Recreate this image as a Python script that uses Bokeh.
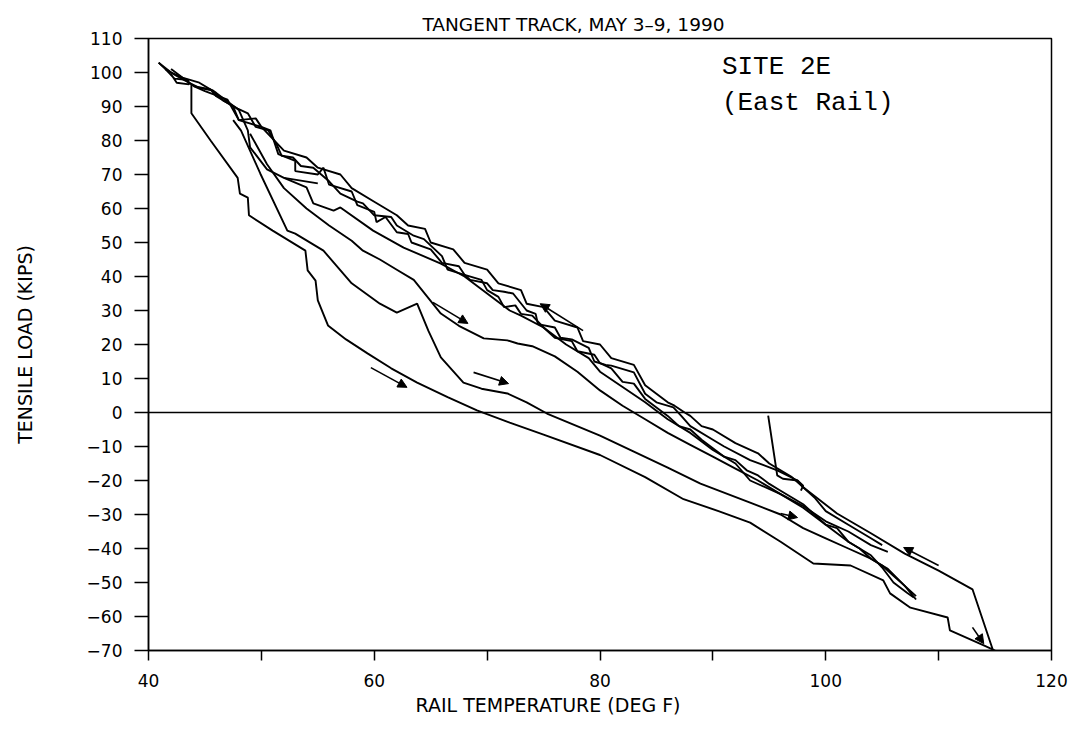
from bokeh.plotting import figure
from bokeh.models import Range1d, FixedTicker, Span, Label, Arrow, NormalHead, ColumnDataSource, Title
from bokeh.embed import file_html
from bokeh.resources import INLINE

# ---------------- data ----------------
title_text = "TANGENT TRACK, MAY 3\u20139, 1990"
x_title = "RAIL TEMPERATURE (DEG F)"
y_title = "TENSILE LOAD (KIPS)"
x_ticks = [40, 50, 60, 70, 80, 90, 100, 110, 120]
x_tick_labels = ["40", "", "60", "", "80", "", "100", "", "120"]
y_ticks = [-70, -60, -50, -40, -30, -20, -10, 0, 10, 20, 30, 40, 50, 60, 70, 80, 90, 100, 110]
y_tick_labels = ["\u221270", "\u221260", "\u221250", "\u221240", "\u221230", "\u221220", "\u221210",
                 "0", "10", "20", "30", "40", "50", "60", "70", "80", "90", "100", "110"]

# cooling run along the upper edge of the band (temperature F, load kips)
cool_upper = [(114.8, -69.8), (113.0, -52.0), (110.0, -46.5), (107.0, -41.5), (104.0, -35.5),
              (101.0, -29.7), (98.0, -22.0), (97.5, -20.0), (95.7, -17.0), (93.3, -14.0),
              (91.0, -10.0), (90.0, -8.0), (88.0, -4.0), (87.2, -1.0), (86.5, 1.5), (85.0, 3.0),
              (84.0, 5.5), (83.0, 11.8), (81.0, 13.8), (80.5, 14.0), (79.5, 15.0), (79.0, 19.0),
              (77.5, 21.5), (76.5, 22.0), (76.0, 25.0), (74.5, 26.0), (74.3, 29.0), (73.5, 30.0),
              (72.3, 35.0), (71.5, 35.5), (70.5, 36.0), (70.0, 38.0), (68.5, 39.0), (68.0, 40.5),
              (66.5, 42.0), (66.0, 46.0), (64.4, 51.0), (63.5, 52.0), (62.0, 55.0), (61.5, 57.5),
              (60.0, 58.0), (59.0, 61.5), (58.5, 62.0), (57.0, 64.4), (56.0, 68.0), (54.6, 72.0),
              (53.5, 72.5), (52.8, 75.0), (51.8, 75.5), (51.4, 78.5), (50.6, 83.0), (49.5, 84.0),
              (48.8, 88.0), (47.9, 89.4), (46.6, 91.8), (45.7, 94.7), (44.5, 95.5), (43.7, 96.8),
              (42.5, 99.0), (41.5, 101.0), (40.9, 102.9)]

band_lower = [(40.9, 102.9), (42.0, 100.0), (43.0, 98.5), (44.5, 97.0), (46.0, 94.0), (48.0, 89.0),
              (48.8, 83.0), (49.0, 78.0), (50.5, 71.5), (52.0, 69.0), (54.0, 66.2), (54.6, 61.5),
              (56.4, 59.4), (57.0, 60.3), (59.9, 53.5), (62.6, 48.5), (65.9, 43.8), (68.0, 40.0),
              (70.0, 35.0), (72.0, 30.0), (73.0, 28.5), (75.0, 25.0), (77.0, 20.0), (79.0, 16.0),
              (80.0, 12.0), (82.0, 7.5), (84.0, 3.0), (86.0, -2.0), (88.0, -6.0), (90.0, -11.0),
              (92.0, -15.0), (93.3, -20.0), (96.0, -24.0), (98.0, -28.0), (100.0, -33.0),
              (102.0, -38.0), (104.0, -42.0), (105.0, -45.6), (106.0, -50.0), (107.2, -53.0),
              (107.8, -54.4)]

band_mid = [(42.0, 101.0), (44.0, 96.0), (45.5, 95.0), (46.0, 93.0), (47.5, 90.0), (48.0, 86.0),
            (49.5, 86.5), (50.0, 84.0), (50.8, 83.0), (51.5, 76.0), (53.0, 74.0), (53.0, 71.0),
            (55.0, 70.0), (55.5, 72.0), (56.0, 67.0), (58.0, 65.0), (58.5, 61.0), (60.0, 59.0),
            (60.2, 56.0), (61.0, 57.5), (62.0, 53.0), (63.0, 52.5), (63.3, 50.0), (65.0, 48.0),
            (66.0, 44.0), (67.5, 43.0), (68.0, 40.5), (69.5, 39.0), (70.0, 36.0), (71.0, 34.0),
            (71.5, 31.0), (72.5, 31.5), (73.0, 29.0), (74.0, 28.5), (75.0, 25.0), (76.0, 22.0),
            (77.5, 21.0), (78.0, 18.0), (79.5, 17.0), (80.0, 14.5), (81.0, 13.0), (82.0, 9.0),
            (83.0, 8.5), (84.0, 4.0), (85.0, 1.5), (86.0, -1.0), (87.0, -4.0), (88.0, -5.0),
            (89.0, -8.0), (90.0, -10.5), (91.0, -13.0), (92.0, -14.0), (93.0, -17.0), (94.0, -18.5),
            (95.0, -21.0), (96.0, -23.0), (97.0, -25.0), (98.0, -27.0), (99.0, -30.0),
            (100.0, -33.0), (101.0, -34.0), (102.0, -38.0), (103.0, -40.0), (104.0, -43.0),
            (105.0, -45.0), (106.0, -48.0), (107.0, -51.0), (108.0, -54.0)]

band_steps = [(44.0, 96.0), (45.0, 94.5), (47.0, 92.0), (48.0, 86.0), (50.0, 84.0), (52.0, 77.0),
              (54.0, 75.0), (55.0, 72.0), (57.0, 70.0), (58.0, 66.0), (60.0, 62.0), (62.0, 58.0),
              (63.0, 55.0), (64.5, 54.0), (65.0, 50.0), (67.0, 48.0), (68.0, 44.0), (70.0, 42.0),
              (71.0, 38.0), (73.0, 36.0), (73.5, 32.0), (75.0, 31.0), (76.0, 27.0), (78.0, 25.0),
              (78.5, 21.0), (80.0, 20.0), (81.0, 16.0), (83.0, 14.0), (84.0, 8.0), (85.0, 5.5),
              (86.0, 3.0), (86.6, 2.0), (87.5, 0.0), (88.0, -1.0), (89.0, -4.0), (90.0, -5.0),
              (92.0, -9.0), (94.0, -12.0), (95.0, -15.0), (97.0, -19.0), (98.0, -22.0),
              (99.0, -25.0), (100.0, -29.0), (102.0, -33.0), (104.0, -37.0), (105.0, -39.0)]

heat_low = [(43.8, 96.5), (43.8, 88.0), (45.5, 80.0), (47.9, 69.0), (48.1, 64.4), (48.8, 63.2),
            (48.9, 58.0), (51.0, 53.5), (53.9, 47.6), (54.1, 41.8), (54.8, 38.8), (55.0, 33.0),
            (55.9, 25.6), (57.5, 21.5), (59.4, 17.4), (61.5, 13.0), (63.8, 8.8), (66.5, 4.5),
            (69.1, 0.6), (72.0, -3.0), (75.0, -6.5), (80.0, -12.5), (84.0, -19.0), (87.4, -25.5),
            (90.5, -29.0), (93.3, -32.4), (96.0, -38.0), (98.9, -44.4), (102.2, -45.0),
            (105.1, -49.4), (105.7, -53.2), (107.5, -57.4), (110.8, -60.3), (111.0, -64.1),
            (114.0, -68.5), (115.0, -70.0)]

heat_mid = [(47.5, 86.0), (48.2, 82.9), (49.9, 70.3), (52.3, 53.5), (53.0, 52.6), (55.5, 47.6),
            (58.0, 38.0), (60.5, 32.0), (62.0, 29.4), (63.8, 32.0), (64.8, 24.0), (65.9, 16.2),
            (67.9, 8.8), (69.5, 7.0), (71.8, 5.6), (73.5, 3.0), (75.3, -0.3), (80.0, -6.8),
            (83.0, -11.5), (86.0, -16.2), (88.9, -20.9), (93.3, -26.5), (96.0, -30.0),
            (98.0, -34.0), (100.0, -37.0), (102.0, -40.0), (104.0, -43.0), (105.5, -46.0),
            (107.0, -51.0), (108.0, -55.0)]

heat_upper = [(49.0, 82.0), (50.5, 73.0), (52.0, 66.0), (54.0, 60.0), (56.0, 55.0), (58.0, 50.5),
              (59.0, 47.6), (60.5, 45.0), (62.0, 42.0), (63.5, 39.0), (65.9, 29.1), (67.5, 25.5),
              (69.7, 21.8), (71.8, 21.2), (72.7, 20.3), (74.0, 19.5), (76.0, 16.5), (78.0, 12.0),
              (80.0, 6.5), (82.0, 2.0), (84.0, -2.0), (86.0, -6.0), (88.0, -9.5), (90.0, -13.0),
              (92.0, -16.5), (94.0, -20.0), (96.0, -24.0), (98.0, -27.5), (100.0, -32.0),
              (102.0, -35.0), (104.0, -39.0), (105.5, -41.0)]

short_step = [(52.0, 69.0), (55.0, 67.4)]
start_loop = [(41.5, 101.0), (42.3, 98.2), (43.5, 97.8), (43.6, 96.5), (42.5, 97.0), (42.0, 99.5)]
spike = [(94.9, -0.9), (95.7, -18.5), (96.2, -19.5), (97.5, -20.0), (98.0, -21.5), (97.8, -23.0)]

# direction arrows: start temp, start load, end temp, end load
arrow_t0 = [59.7, 65.2, 68.8, 78.5, 110.0, 113.0, 96.0]
arrow_l0 = [13.2, 32.4, 11.8, 24.1, -45.0, -63.2, -29.7]
arrow_t1 = [62.9, 68.3, 71.9, 74.7, 106.9, 114.0, 97.5]
arrow_l1 = [7.4, 26.2, 8.5, 32.0, -39.7, -68.0, -30.9]

site_name = "SITE 2E"
site_rail = "(East Rail)"
site_temp = 90.8
site_load_1 = 101.5
site_load_2 = 90.9

# ---------------- figure ----------------
p = figure(width=1075, height=735, output_backend="svg", toolbar_location=None,
           x_range=Range1d(40, 120), y_range=Range1d(-70, 110),
           min_border_left=148, min_border_right=24, min_border_top=38, min_border_bottom=85)
p.background_fill_color = "white"
p.border_fill_color = "white"
p.outline_line_color = "black"
p.outline_line_width = 1.5
p.xgrid.visible = False
p.ygrid.visible = False

p.add_layout(Title(text=title_text, align="left", offset=274, text_font="DejaVu Sans",
                   text_font_size="18.5px", text_font_style="normal", text_color="black",
                   standoff=7), "above")

tick_font = "DejaVu Sans"
for ax in (p.xaxis[0], p.yaxis[0]):
    ax.axis_line_color = "black"
    ax.axis_line_width = 1.5
    ax.major_tick_line_color = "black"
    ax.major_tick_line_width = 1.5
    ax.major_tick_in = 0
    ax.minor_tick_line_color = None
    ax.major_label_text_font = tick_font
    ax.major_label_text_font_size = "17px"
    ax.major_label_text_color = "black"
    ax.axis_label_text_font = "DejaVu Sans"
    ax.axis_label_text_font_size = "19px"
    ax.axis_label_text_font_style = "normal"
    ax.axis_label_text_color = "black"

p.xaxis.ticker = FixedTicker(ticks=x_ticks)
p.xaxis.major_label_overrides = {t: s for t, s in zip(x_ticks, x_tick_labels)}
p.xaxis.major_tick_out = 10
p.xaxis.major_label_standoff = 13

p.add_layout(Title(text=x_title, align="left", offset=267, text_font="DejaVu Sans",
                   text_font_size="19px", text_font_style="normal", text_color="black",
                   standoff=4), "below")

p.yaxis.ticker = FixedTicker(ticks=y_ticks)
p.yaxis.major_label_overrides = {t: s for t, s in zip(y_ticks, y_tick_labels)}
p.yaxis.major_tick_out = 14
p.yaxis.major_label_standoff = 12
p.yaxis.axis_label = y_title
p.yaxis.axis_label_standoff = 48

p.add_layout(Span(location=0, dimension="width", line_color="black", line_width=1.5))

traces = [cool_upper, band_lower, band_mid, band_steps, heat_low, heat_mid, heat_upper,
          short_step, start_loop, spike]
for tr in traces:
    xs = [a for a, b in tr]
    ys = [b for a, b in tr]
    p.line(xs, ys, line_color="black", line_width=1.9)

arrow_src = ColumnDataSource(dict(x0=arrow_t0, y0=arrow_l0, x1=arrow_t1, y1=arrow_l1))
p.add_layout(Arrow(end=NormalHead(size=9, fill_color="black", line_color="black"),
                   source=arrow_src, x_start="x0", y_start="y0", x_end="x1", y_end="y1",
                   line_color="black", line_width=1.6))

p.add_layout(Label(x=site_temp, y=site_load_1, text=site_name, text_font="Liberation Mono",
                   text_font_size="26px", text_color="black", text_baseline="alphabetic"))
p.add_layout(Label(x=site_temp, y=site_load_2, text=site_rail, text_font="Liberation Mono",
                   text_font_size="26px", text_color="black", text_baseline="alphabetic"))

open("out.html", "w").write(file_html(p, INLINE))
